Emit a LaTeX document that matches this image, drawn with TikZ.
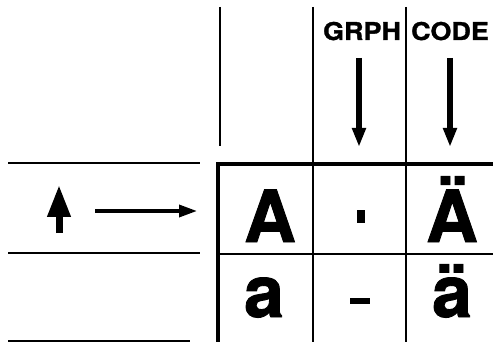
\documentclass[tikz,border=0pt]{standalone}
\usepackage{fontspec}
\usepackage{graphicx}
\setmainfont{TeX Gyre Heros}
\newfontfamily\heavyfont{TeX Gyre Heros}[FakeBold=1.2]
\usetikzlibrary{arrows.meta}
\begin{document}
\begin{tikzpicture}[x=1pt,y=-1pt,
  thinrule/.style={line width=1.6pt},
  thickrule/.style={line width=3.4pt},
  bigglyph/.style={font=\heavyfont\bfseries\fontsize{72}{72}\selectfont, inner sep=0pt, anchor=base},
  hdr/.style={font=\heavyfont\bfseries\fontsize{24.5}{25}\selectfont, inner sep=0pt, anchor=base},
  downarrow/.style={line width=6pt, -{Triangle[length=19pt,width=13pt]}},
  uparrow/.style={line width=7pt, -{Triangle[length=32pt,width=22pt]}},
  rightarrow/.style={line width=3.5pt, -{Triangle[length=18pt,width=12pt]}},
  blob/.style={fill=black, inner sep=0pt, draw=none},
]
\useasboundingbox (0,0) rectangle (493,342);
% header rules
\draw[thinrule] (220,7) -- (220,146);
\draw[thinrule] (313,7) -- (313,342);
\draw[thinrule] (406,7) -- (406,342);
% left rules
\draw[thinrule] (8,163) -- (200,163);
\draw[thinrule] (8,253) -- (200,253);
\draw[thinrule] (8,341) -- (190,341);
% grid
\draw[thickrule] (218,342) -- (218,164) -- (493,164);
\draw[thinrule] (218,254) -- (493,254);
% headers
\node[hdr] (grph) at (362,40) {\scalebox{1.1}[1]{GRPH}};
\node[hdr] (code) at (450,40) {\scalebox{1.1}[1]{CODE}};
% down arrows
\coordinate (g1) at (359,58); \coordinate (g2) at (359,147);
\coordinate (c1) at (450,58); \coordinate (c2) at (450,147);
\draw[downarrow] (g1) -- (g2);
\draw[downarrow] (c1) -- (c2);
% left arrows
\coordinate (u1) at (59,233); \coordinate (u2) at (59,185);
\draw[uparrow] (u1) -- (u2);
\coordinate (r1) at (95,211); \coordinate (r2) at (197,211);
\draw[rightarrow] (r1) -- (r2);
% cells
\node[bigglyph] (A) at (270,242) {A};
\node[bigglyph] (Auml) at (452,242) {Ä};
\node[bigglyph] (a) at (264,317) {a};
\node[bigglyph] (auml) at (452,317) {ä};
\node[blob, minimum width=8pt, minimum height=13pt] (tick) at (361,216.5) {};
\node[blob, minimum width=20pt, minimum height=6pt] (dash) at (360,301) {};
\end{tikzpicture}
\end{document}
